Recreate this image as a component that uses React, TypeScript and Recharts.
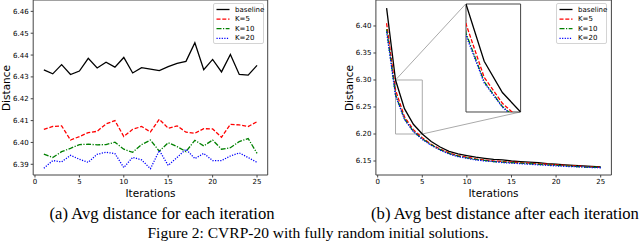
import { LineChart, Line, XAxis, YAxis, ReferenceArea, ReferenceLine } from 'recharts'

// iterations 1..25
const iterations = [1, 2, 3, 4, 5, 6, 7, 8, 9, 10, 11, 12, 13, 14, 15, 16, 17, 18, 19, 20, 21, 22, 23, 24, 25]

// (a) avg distance for each iteration
const avgBaseline = [6.4332, 6.4314, 6.4356, 6.4311, 6.4327, 6.4385, 6.4341, 6.4367, 6.4345, 6.4389, 6.4318, 6.4342, 6.4336, 6.4329, 6.4347, 6.4362, 6.4371, 6.4456, 6.4333, 6.438, 6.4323, 6.4403, 6.4311, 6.4308, 6.4353]
const avgK5 = [6.406, 6.4073, 6.4076, 6.4011, 6.4027, 6.4045, 6.4051, 6.4085, 6.41, 6.4027, 6.406, 6.4073, 6.4048, 6.4106, 6.4065, 6.4076, 6.4047, 6.4042, 6.4063, 6.4062, 6.4024, 6.4083, 6.408, 6.4073, 6.4095]
const avgK10 = [6.3947, 6.3931, 6.3958, 6.3973, 6.399, 6.3992, 6.3989, 6.399, 6.4001, 6.3969, 6.3955, 6.399, 6.4011, 6.396, 6.3999, 6.3981, 6.3958, 6.401, 6.3984, 6.4011, 6.3969, 6.3976, 6.4004, 6.4018, 6.395]
const avgK20 = [6.3882, 6.3917, 6.3911, 6.3941, 6.3923, 6.3909, 6.3946, 6.3955, 6.3949, 6.3885, 6.3932, 6.392, 6.388, 6.3963, 6.3895, 6.3931, 6.3969, 6.3926, 6.395, 6.3917, 6.3917, 6.3938, 6.3952, 6.3931, 6.3909]

// (b) avg best distance after each iteration
const bestBaseline = [6.433, 6.3, 6.247, 6.218, 6.2, 6.186, 6.176, 6.168, 6.163, 6.16, 6.157, 6.155, 6.153, 6.152, 6.15, 6.149, 6.148, 6.147, 6.145, 6.144, 6.143, 6.142, 6.141, 6.14, 6.139]
const bestK5 = [6.405, 6.2815, 6.232, 6.208, 6.193, 6.181, 6.172, 6.165, 6.16, 6.157, 6.154, 6.152, 6.15, 6.149, 6.148, 6.147, 6.146, 6.145, 6.144, 6.143, 6.142, 6.141, 6.14, 6.139, 6.138]
const bestK10 = [6.394, 6.273, 6.228, 6.205, 6.191, 6.18, 6.171, 6.164, 6.159, 6.156, 6.153, 6.151, 6.149, 6.148, 6.147, 6.146, 6.145, 6.144, 6.143, 6.142, 6.141, 6.14, 6.139, 6.1385, 6.138]
const bestK20 = [6.3895, 6.271, 6.227, 6.2045, 6.19, 6.179, 6.17, 6.163, 6.158, 6.155, 6.152, 6.15, 6.149, 6.147, 6.146, 6.145, 6.144, 6.143, 6.142, 6.141, 6.14, 6.1395, 6.139, 6.138, 6.1375]

const xTicks = [0, 5, 10, 15, 20, 25]
const avgYTicks = [6.39, 6.4, 6.41, 6.42, 6.43, 6.44, 6.45, 6.46]
const bestYTicks = [6.15, 6.2, 6.25, 6.3, 6.35, 6.4]
const insetXTicks = [2, 4]
const insetYTicks = [6.2, 6.22, 6.24, 6.26, 6.28]

const X_DOMAIN: [number, number] = [-0.2, 26.2]
const AVG_DOMAIN: [number, number] = [6.3851, 6.4652]
const BEST_DOMAIN: [number, number] = [6.1241, 6.4481]
const ZOOM_X: [number, number] = [2, 5]
const ZOOM_Y: [number, number] = [6.2, 6.3]

const SERIES = [
  { key: 'baseline', name: 'baseline', color: '#000000', dash: undefined as string | undefined },
  { key: 'k5', name: 'K=5', color: '#ff0000', dash: '4 1.8' },
  { key: 'k10', name: 'K=10', color: '#008000', dash: '5 1.5 1.2 1.5' },
  { key: 'k20', name: 'K=20', color: '#0000ff', dash: '1.2 1.4' },
]

const avgTable = iterations.map((it, i) => ({ it, baseline: avgBaseline[i], k5: avgK5[i], k10: avgK10[i], k20: avgK20[i] }))
const bestTable = iterations.map((it, i) => ({ it, baseline: bestBaseline[i], k5: bestK5[i], k10: bestK10[i], k20: bestK20[i] }))

const SANS = '"DejaVu Sans", sans-serif'
const SERIF = '"Liberation Serif", "Times New Roman", serif'
const SPINE = '#444'
const tickStyle = { fill: '#000', fontSize: 7, fontFamily: SANS }

// right chart geometry (plot area in page px) used to place the inset connectors
const R_LEFT = 375.9
const R_RIGHT = 611.4
const R_TOP = 0
const R_BOTTOM = 175
const INSET = { left: 465.7, top: 4, width: 54.6, height: 108 }

const pxToX = (px: number) => X_DOMAIN[0] + ((px - R_LEFT) / (R_RIGHT - R_LEFT)) * (X_DOMAIN[1] - X_DOMAIN[0])
const pxToY = (py: number) => BEST_DOMAIN[1] - ((py - R_TOP) / (R_BOTTOM - R_TOP)) * (BEST_DOMAIN[1] - BEST_DOMAIN[0])

function Lines() {
  return SERIES.map((s) => (
    <Line
      key={s.key}
      type="linear"
      dataKey={s.key}
      name={s.name}
      stroke={s.color}
      strokeWidth={1.3}
      strokeDasharray={s.dash}
      dot={false}
      activeDot={false}
      isAnimationActive={false}
    />
  ))
}

function LegendBox({ left, top }: { left: number; top: number }) {
  return (
    <div
      style={{
        position: 'absolute',
        left,
        top,
        width: 51,
        height: 41,
        border: '1px solid #d4d4d4',
        borderRadius: 2,
        background: 'rgba(255,255,255,0.85)',
        boxSizing: 'border-box',
      }}
    >
      <svg width={51} height={41}>
        {SERIES.map((s, i) => {
          const y = 5.5 + i * 9.6
          return (
            <g key={s.key}>
              <line x1={2.5} x2={15.5} y1={y} y2={y} stroke={s.color} strokeWidth={1.3} strokeDasharray={s.dash} />
              <text x={21} y={y} dominantBaseline="central" fontSize={7} fontFamily={SANS} fill="#000">
                {s.name}
              </text>
            </g>
          )
        })}
      </svg>
    </div>
  )
}

function Text({ x, y, size, family, children, rotate }: { x: number; y: number; size: number; family: string; children: string; rotate?: boolean }) {
  return (
    <div
      style={{
        position: 'absolute',
        left: x,
        top: y,
        transform: `translate(-50%, -50%)${rotate ? ' rotate(-90deg)' : ''}`,
        whiteSpace: 'nowrap',
        fontSize: size,
        lineHeight: `${size}px`,
        fontFamily: family,
        color: '#000',
      }}
    >
      {children}
    </div>
  )
}

export default function App() {
  return (
    <div style={{ position: 'absolute', left: 0, top: 0, width: 640, height: 242, overflow: 'hidden', background: '#fff' }}>
      {/* (a) */}
      <div style={{ position: 'absolute', left: 0, top: 0 }}>
        <LineChart width={270} height={200} data={avgTable} margin={{ top: 0, right: 2.3, bottom: 0, left: 0 }}>
          <XAxis
            dataKey="it"
            type="number"
            domain={X_DOMAIN}
            ticks={xTicks}
            interval={0}
            height={25}
            axisLine={false}
            stroke={SPINE}
            tickSize={2.5}
            tickMargin={1.5}
            tick={tickStyle}
          />
          <YAxis
            type="number"
            domain={AVG_DOMAIN}
            ticks={avgYTicks}
            interval={0}
            width={33.2}
            axisLine={false}
            stroke={SPINE}
            tickSize={2.5}
            tickMargin={2}
            tick={tickStyle}
            tickFormatter={(v: number) => v.toFixed(2)}
          />
          <ReferenceArea x1={X_DOMAIN[0]} x2={X_DOMAIN[1]} y1={AVG_DOMAIN[0]} y2={AVG_DOMAIN[1]} fill="none" stroke={SPINE} strokeWidth={1} ifOverflow="visible" />
          {Lines()}
        </LineChart>
      </div>
      <LegendBox left={213} top={3} />
      <Text x={5.5} y={87.5} size={10.5} family={SANS} rotate>Distance</Text>
      <Text x={150.5} y={193} size={10.5} family={SANS}>Iterations</Text>

      {/* (b) */}
      <div style={{ position: 'absolute', left: 340, top: 0 }}>
        <LineChart width={275} height={200} data={bestTable} margin={{ top: 0, right: 3.6, bottom: 0, left: 0 }}>
          <XAxis
            dataKey="it"
            type="number"
            domain={X_DOMAIN}
            ticks={xTicks}
            interval={0}
            height={25}
            axisLine={false}
            stroke={SPINE}
            tickSize={2.5}
            tickMargin={1.5}
            tick={tickStyle}
          />
          <YAxis
            type="number"
            domain={BEST_DOMAIN}
            ticks={bestYTicks}
            interval={0}
            width={35.9}
            axisLine={false}
            stroke={SPINE}
            tickSize={2.5}
            tickMargin={2}
            tick={tickStyle}
            tickFormatter={(v: number) => v.toFixed(2)}
          />
          <ReferenceArea x1={X_DOMAIN[0]} x2={X_DOMAIN[1]} y1={BEST_DOMAIN[0]} y2={BEST_DOMAIN[1]} fill="none" stroke={SPINE} strokeWidth={1} ifOverflow="visible" />
          <ReferenceArea x1={ZOOM_X[0]} x2={ZOOM_X[1]} y1={ZOOM_Y[0]} y2={ZOOM_Y[1]} fill="none" stroke="#aaa" strokeWidth={1} ifOverflow="visible" />
          <ReferenceLine
            segment={[{ x: ZOOM_X[0], y: ZOOM_Y[1] }, { x: pxToX(INSET.left), y: pxToY(INSET.top) }]}
            stroke="#aaa"
            strokeWidth={1}
            ifOverflow="visible"
          />
          <ReferenceLine
            segment={[{ x: ZOOM_X[1], y: ZOOM_Y[0] }, { x: pxToX(INSET.left + INSET.width), y: pxToY(INSET.top + INSET.height) }]}
            stroke="#aaa"
            strokeWidth={1}
            ifOverflow="visible"
          />
          {Lines()}
        </LineChart>
      </div>

      {/* zoomed inset */}
      <div style={{ position: 'absolute', left: INSET.left, top: INSET.top, width: INSET.width, height: INSET.height, background: '#fff' }} />
      <div style={{ position: 'absolute', left: INSET.left - 4, top: INSET.top - 4 }}>
        <LineChart width={INSET.width + 6} height={INSET.height + 8} data={bestTable} margin={{ top: 4, right: 2, bottom: 0, left: 0 }}>
          <XAxis
            dataKey="it"
            type="number"
            domain={ZOOM_X}
            allowDataOverflow
            ticks={insetXTicks}
            interval={0}
            height={4}
            axisLine={false}
            stroke={SPINE}
            tickSize={2.5}
            tick={false}
          />
          <YAxis
            type="number"
            domain={ZOOM_Y}
            allowDataOverflow
            ticks={insetYTicks}
            interval={0}
            width={4}
            axisLine={false}
            stroke={SPINE}
            tickSize={2.5}
            tick={false}
          />
          <ReferenceArea x1={ZOOM_X[0]} x2={ZOOM_X[1]} y1={ZOOM_Y[0]} y2={ZOOM_Y[1]} fill="none" stroke={SPINE} strokeWidth={1} ifOverflow="visible" />
          {Lines()}
        </LineChart>
      </div>
      <LegendBox left={556} top={3} />
      <Text x={349} y={87.5} size={10.5} family={SANS} rotate>Distance</Text>
      <Text x={493.5} y={193} size={10.5} family={SANS}>Iterations</Text>

      {/* captions */}
      <Text x={162} y={213.5} size={16.6} family={SERIF}>(a) Avg distance for each iteration</Text>
      <Text x={505} y={213.5} size={16.6} family={SERIF}>(b) Avg best distance after each iteration</Text>
      <Text x={318} y={233} size={15.5} family={SERIF}>Figure 2: CVRP-20 with fully random initial solutions.</Text>
    </div>
  )
}
